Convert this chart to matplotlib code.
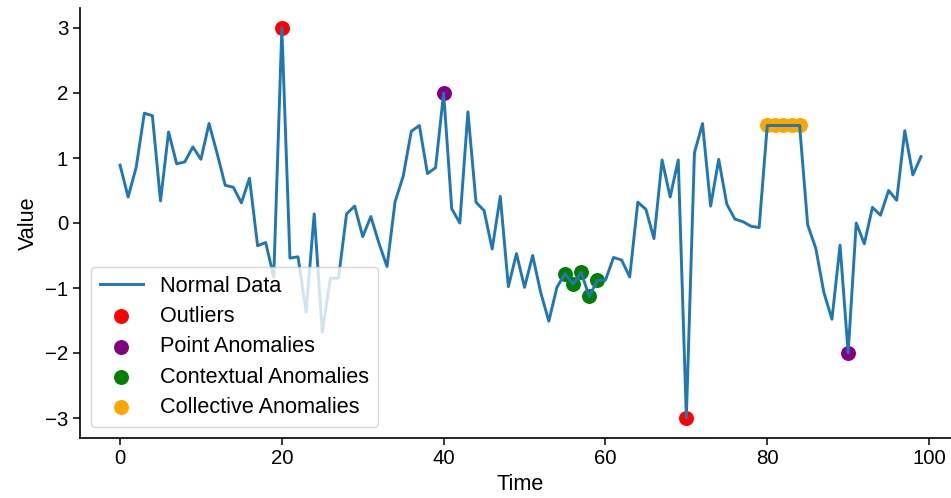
import matplotlib
matplotlib.use("Agg")
import matplotlib.pyplot as plt
import numpy as np

plt.rcParams['font.family'] = ['Liberation Sans', 'DejaVu Sans']

time = list(range(100))
values = [
    0.89, 0.40, 0.86, 1.69, 1.65, 0.34, 1.40, 0.91, 0.94, 1.17,
    0.98, 1.53, 1.07, 0.58, 0.55, 0.31, 0.69, -0.35, -0.30, -0.83,
    3.00, -0.54, -0.52, -1.37, 0.14, -1.68, -0.85, -0.85, 0.14, 0.26,
    -0.21, 0.10, -0.31, -0.67, 0.33, 0.72, 1.41, 1.50, 0.76, 0.85,
    2.00, 0.22, 0.00, 1.71, 0.32, 0.19, -0.40, 0.41, -0.98, -0.47,
    -0.99, -0.50, -1.07, -1.51, -0.99, -0.78, -0.94, -0.76, -1.13, -0.88,
    -0.88, -0.53, -0.57, -0.83, 0.32, 0.21, -0.24, 0.97, 0.40, 0.97,
    -3.00, 1.08, 1.53, 0.26, 0.98, 0.29, 0.06, 0.02, -0.05, -0.07,
    1.50, 1.50, 1.50, 1.50, 1.50, -0.03, -0.39, -1.07, -1.48, -0.34,
    -2.00, 0.00, -0.32, 0.24, 0.12, 0.50, 0.35, 1.42, 0.74, 1.02,
]
outlier_idx = [20, 70]
point_idx = [40, 90]
contextual_idx = [55, 56, 57, 58, 59]
collective_idx = [80, 81, 82, 83, 84]

W, H = 951, 498
fig = plt.figure(figsize=(W / 100, H / 100), dpi=100)
ax = fig.add_axes([80 / W, (H - 437.5) / H, 881 / W, 429 / H])

t = np.array(time)
v = np.array(values)
FS = 14.7
FL = 15.6
ax.plot(t, v, color='#1f77b4', lw=2.1, label='Normal Data')
ax.scatter(t[outlier_idx], v[outlier_idx], color='red', s=95, label='Outliers')
ax.scatter(t[point_idx], v[point_idx], color='purple', s=95, label='Point Anomalies')
ax.scatter(t[contextual_idx], v[contextual_idx], color='green', s=95, label='Contextual Anomalies')
ax.scatter(t[collective_idx], v[collective_idx], color='orange', s=95, label='Collective Anomalies')

ax.set_xlim(-4.95, 103.95)
ax.set_ylim(-3.3, 3.3)
ax.set_xticks([0, 20, 40, 60, 80, 100])
ax.set_yticks([-3, -2, -1, 0, 1, 2, 3])
ax.tick_params(labelsize=FS, length=5, width=1.1)
ax.set_xlabel('Time', fontsize=FL)
ax.set_ylabel('Value', fontsize=FL)
for s in ['top', 'right']:
    ax.spines[s].set_visible(False)
for s in ['left', 'bottom']:
    ax.spines[s].set_linewidth(1.2)

ax.legend(loc='lower left', fontsize=FL, labelspacing=0.43)

fig.savefig('out.png', dpi=100)
